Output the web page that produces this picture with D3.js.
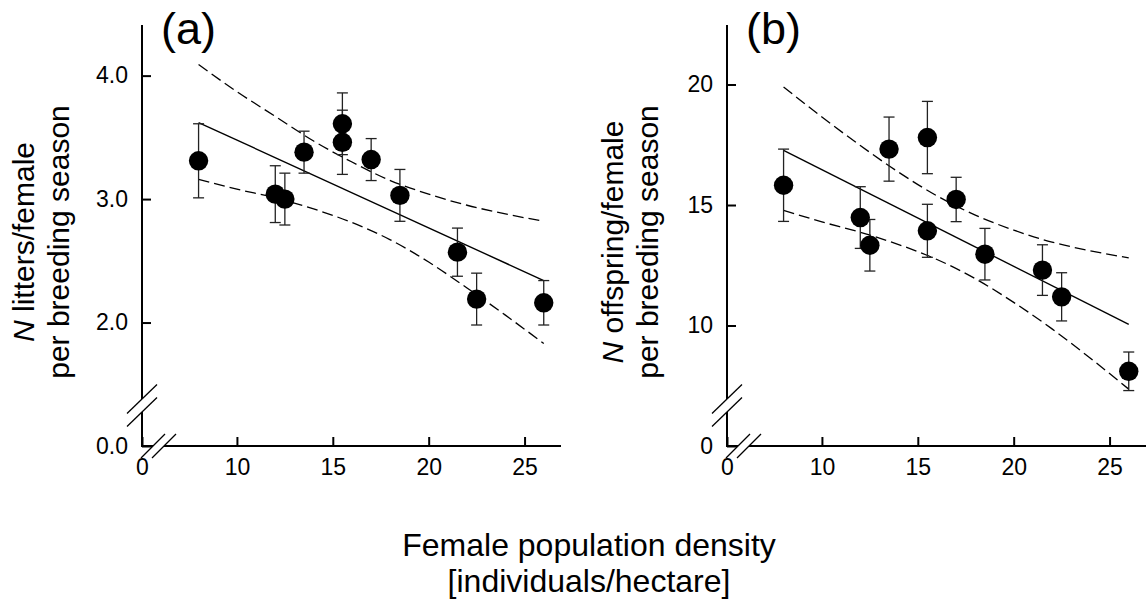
<!DOCTYPE html>
<html>
<head>
<meta charset="utf-8">
<script src="https://cdn.jsdelivr.net/npm/d3@7"></script>
<style>
  body { margin: 0; background: #fff; }
  svg { display: block; font-family: Arial, "Liberation Sans", sans-serif; }
</style>
</head>
<body>
<div id="chart"></div>
<script>
// densities shared by both panels
const density = [8, 12, 12.5, 13.5, 15.5, 15.5, 17, 18.5, 21.5, 22.5, 26];

// (a) litters per female
const littersMean = [3.31, 3.04, 3.00, 3.38, 3.61, 3.46, 3.32, 3.03, 2.57, 2.19, 2.16];
const littersErr = [0.30, 0.23, 0.21, 0.17, 0.25, 0.26, 0.17, 0.21, 0.195, 0.21, 0.18];

// (b) offspring per female
const offspringMean = [15.82, 14.48, 13.33, 17.32, 17.80, 13.93, 15.23, 12.96, 12.30, 11.19, 8.10];
const offspringErr = [1.50, 1.28, 1.07, 1.33, 1.50, 1.10, 0.92, 1.07, 1.05, 1.00, 0.80];

// regression lines and confidence bands
const fitX = [8, 26];
const fitA = [3.62, 2.34];
const fitB = [17.27, 10.05];
const ciX = [8, 10, 12, 14, 16, 18, 20, 22, 24, 26];
const ciUpperA = [4.09, 3.87, 3.67, 3.47, 3.30, 3.15, 3.04, 2.95, 2.88, 2.82];
const ciLowerA = [3.16, 3.08, 3.01, 2.92, 2.81, 2.67, 2.49, 2.28, 2.06, 1.83];
const ciUpperB = [19.90, 18.65, 17.47, 16.36, 15.38, 14.58, 13.96, 13.46, 13.10, 12.81];
const ciLowerB = [14.78, 14.30, 13.87, 13.36, 12.74, 11.94, 10.96, 9.86, 8.64, 7.36];

// axes are broken: the bottom/left end stands for 0
const xTicks = [5.05, 10, 15, 20, 25];
const xTickLabels = ['0', '10', '15', '20', '25'];
const yTicksA = [1.0, 2, 3, 4];
const yTickLabelsA = ['0.0', '2.0', '3.0', '4.0'];
const yTicksB = [5, 10, 15, 20];
const yTickLabelsB = ['0', '10', '15', '20'];

const width = 1146;
const height = 599;

const svg = d3.select('#chart')
  .append('svg')
  .attr('width', width)
  .attr('height', height);

const drawPanel = (opts) => {
  const { left, yDomain, means, errs, fit, ciUp, ciLo, yTicks, yLabels, tag, titleLines, titleX } = opts;
  const bottom = 446;
  const top = 25;
  const right = left + 419;

  const x = d3.scaleLinear().domain([5.05, 26.9]).range([left, right]);
  const y = d3.scaleLinear().domain(yDomain).range([bottom, top]);

  const g = svg.append('g');

  // axes with inward ticks
  const xAxis = g.append('g')
    .attr('transform', `translate(0,${bottom})`)
    .call(d3.axisBottom(x).tickValues(xTicks).tickSize(-9).tickPadding(11)
      .tickFormat((d, i) => xTickLabels[i]));
  const yAxis = g.append('g')
    .attr('transform', `translate(${left},0)`)
    .call(d3.axisLeft(y).tickValues(yTicks).tickSize(-9).tickPadding(14)
      .tickFormat((d, i) => yLabels[i]));
  [xAxis, yAxis].forEach((a) => {
    a.select('.domain').remove();
    a.selectAll('line').attr('stroke', '#000').attr('stroke-width', 2);
    a.selectAll('text').attr('fill', '#000').style('font-size', '23px');
  });
  xAxis.selectAll('text').attr('dy', '0.78em');

  // axis lines with break gaps
  const axisStyle = (sel) => sel.attr('stroke', '#000').attr('stroke-width', 2).attr('fill', 'none');
  g.append('path').call(axisStyle)
    .attr('d', `M${left},${top}V399M${left},412V${bottom}H${left + 11}M${left + 22},${bottom}H${right}`);

  // break marks
  const slash = (sel) => sel.attr('stroke', '#000').attr('stroke-width', 1.3);
  [399, 412].forEach((yy) => {
    g.append('line').call(slash)
      .attr('x1', left - 15).attr('y1', yy + 14.5)
      .attr('x2', left + 15).attr('y2', yy - 14.5);
  });
  [left + 11, left + 22].forEach((xx) => {
    g.append('line').call(slash)
      .attr('x1', xx - 12).attr('y1', bottom + 12)
      .attr('x2', xx + 12).attr('y2', bottom - 12);
  });

  // confidence band
  const ciLine = d3.line()
    .x((d) => x(d[0]))
    .y((d) => y(d[1]))
    .curve(d3.curveMonotoneX);
  [ciUp, ciLo].forEach((vals) => {
    g.append('path')
      .attr('d', ciLine(ciX.map((v, i) => [v, vals[i]])))
      .attr('fill', 'none')
      .attr('stroke', '#000')
      .attr('stroke-width', 1.3)
      .attr('stroke-dasharray', '11,5');
  });

  // regression line
  g.append('path')
    .attr('d', d3.line()(fitX.map((v, i) => [x(v), y(fit[i])])))
    .attr('fill', 'none')
    .attr('stroke', '#000')
    .attr('stroke-width', 1.4);

  // error bars
  const bars = g.append('g')
    .attr('stroke', '#222')
    .attr('stroke-width', 1.3);
  density.forEach((d, i) => {
    const cx = x(d);
    const hi = y(means[i] + errs[i]);
    const lo = y(means[i] - errs[i]);
    bars.append('line').attr('x1', cx).attr('x2', cx).attr('y1', hi).attr('y2', lo);
    bars.append('line').attr('x1', cx - 5.5).attr('x2', cx + 5.5).attr('y1', hi).attr('y2', hi);
    bars.append('line').attr('x1', cx - 5.5).attr('x2', cx + 5.5).attr('y1', lo).attr('y2', lo);
  });

  // points
  g.append('g')
    .selectAll('circle')
    .data(density)
    .join('circle')
    .attr('cx', (d) => x(d))
    .attr('cy', (d, i) => y(means[i]))
    .attr('r', 9.7)
    .attr('fill', '#000');

  // panel tag
  g.append('text')
    .attr('x', left + 19)
    .attr('y', 44)
    .style('font-size', '45px')
    .text(tag);

  // y title
  const title = g.append('text')
    .attr('transform', `translate(${titleX},242) rotate(-90)`)
    .attr('text-anchor', 'middle')
    .style('font-size', '30px');
  title.append('tspan')
    .attr('x', 0).attr('y', 0)
    .call((t) => {
      t.append('tspan').attr('font-style', 'italic').text('N');
      t.append('tspan').text(titleLines[0]);
    });
  title.append('tspan')
    .attr('x', 0).attr('y', 35)
    .text(titleLines[1]);
};

drawPanel({
  left: 142,
  yDomain: [1.0, 4.41],
  means: littersMean,
  errs: littersErr,
  fit: fitA,
  ciUp: ciUpperA,
  ciLo: ciLowerA,
  yTicks: yTicksA,
  yLabels: yTickLabelsA,
  tag: '(a)',
  titleLines: [' litters/female', 'per breeding season'],
  titleX: 34,
});

drawPanel({
  left: 727,
  yDomain: [5, 22.47],
  means: offspringMean,
  errs: offspringErr,
  fit: fitB,
  ciUp: ciUpperB,
  ciLo: ciLowerB,
  yTicks: yTicksB,
  yLabels: yTickLabelsB,
  tag: '(b)',
  titleLines: [' offspring/female', 'per breeding season'],
  titleX: 623,
});

// shared x title
const xTitle = svg.append('text')
  .attr('text-anchor', 'middle')
  .style('font-size', '32px');
xTitle.append('tspan').attr('x', 589).attr('y', 556).text('Female population density');
xTitle.append('tspan').attr('x', 589).attr('y', 592).text('[individuals/hectare]');
</script>
</body>
</html>
